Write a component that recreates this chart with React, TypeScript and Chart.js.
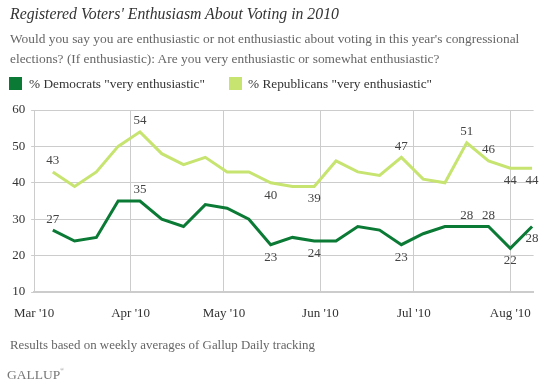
import React, { useEffect, useRef } from "react";
import { Chart, registerables } from "chart.js";

Chart.register(...registerables);

// ---- data ----
const weeks = [
  "2010-03-07", "2010-03-14", "2010-03-21", "2010-03-28", "2010-04-04", "2010-04-11",
  "2010-04-18", "2010-04-25", "2010-05-02", "2010-05-09", "2010-05-16", "2010-05-23",
  "2010-05-30", "2010-06-06", "2010-06-13", "2010-06-20", "2010-06-27", "2010-07-04",
  "2010-07-11", "2010-07-18", "2010-07-25", "2010-08-01", "2010-08-08",
];
const democrats = [27, 24, 25, 35, 35, 30, 28, 34, 33, 30, 23, 25, 24, 24, 28, 27, 23, 26, 28, 28, 28, 22, 28];
const republicans = [43, 39, 43, 50, 54, 48, 45, 47, 43, 43, 40, 39, 39, 46, 43, 42, 47, 41, 40, 51, 46, 44, 44];
const monthStarts = ["2010-03-01", "2010-04-01", "2010-05-01", "2010-06-01", "2010-07-01", "2010-08-01"];
const monthLabels = ["Mar '10", "Apr '10", "May '10", "Jun '10", "Jul '10", "Aug '10"];
const yTicks = [10, 20, 30, 40, 50, 60];
const demLabelled: Record<number, "above" | "below"> = { 0: "above", 4: "above", 10: "below", 12: "below", 16: "below", 19: "above", 20: "above", 21: "below", 22: "below" };
const repLabelled: Record<number, "above" | "below"> = { 0: "above", 4: "above", 10: "below", 12: "below", 16: "above", 19: "above", 20: "above", 21: "below", 22: "below" };

const DEM_COLOR = "#0a7a35";
const REP_COLOR = "#c6e46f";
const FONT = "'Liberation Serif', 'Times New Roman', serif";

const dayOf = (s: string) => {
  const [y, m, d] = s.split("-").map(Number);
  return (Date.UTC(y, m - 1, d) - Date.UTC(2010, 2, 1)) / 86400000;
};

const labelPlugin = {
  id: "pointLabels",
  afterDatasetsDraw(chart: any) {
    const ctx = chart.ctx;
    ctx.save();
    ctx.font = `13px ${FONT}`;
    ctx.fillStyle = "#444";
    ctx.textAlign = "center";
    ctx.textBaseline = "middle";
    const maps = [demLabelled, repLabelled];
    chart.data.datasets.forEach((ds: any, di: number) => {
      const meta = chart.getDatasetMeta(di);
      const map = maps[di];
      meta.data.forEach((pt: any, i: number) => {
        const pos = map[i];
        if (!pos) return;
        const v = ds.data[i].y;
        const y = pos === "above" ? pt.y - 11 : pt.y + 12.5;
        ctx.fillText(String(v), pt.x, y);
      });
    });
    ctx.restore();
  },
};

export default function App() {
  const ref = useRef<HTMLCanvasElement>(null);
  useEffect(() => {
    if (!ref.current) return;
    const chart = new Chart(ref.current, {
      type: "line",
      data: {
        datasets: [
          {
            label: '% Democrats "very enthusiastic"',
            data: weeks.map((w, i) => ({ x: dayOf(w), y: democrats[i] })),
            borderColor: DEM_COLOR,
            backgroundColor: DEM_COLOR,
            borderWidth: 3,
            pointRadius: 0,
            tension: 0,
          },
          {
            label: '% Republicans "very enthusiastic"',
            data: weeks.map((w, i) => ({ x: dayOf(w), y: republicans[i] })),
            borderColor: REP_COLOR,
            backgroundColor: REP_COLOR,
            borderWidth: 3,
            pointRadius: 0,
            tension: 0,
          },
        ],
      },
      options: {
        responsive: false,
        animation: false,
        devicePixelRatio: 1,
        layout: { padding: { top: 110, left: 0, right: 7, bottom: 65 } },
        plugins: { legend: { display: false }, tooltip: { enabled: false } },
        scales: {
          x: {
            type: "linear",
            min: 0,
            max: 160.5,
            afterFit: (s: any) => { s.height = 30; },
            afterBuildTicks: (s: any) => { s.ticks = monthStarts.map((m) => ({ value: dayOf(m) })); },
            grid: { color: "#cccccc", drawTicks: false, lineWidth: 1 },
            border: { color: "#cccccc", width: 2 },
            ticks: {
              autoSkip: false,
              maxRotation: 0,
              padding: 14,
              color: "#333",
              font: { family: FONT, size: 13 },
              callback: (_v: any, i: number) => monthLabels[i],
            },
          },
          y: {
            min: 10,
            max: 60,
            afterFit: (s: any) => { s.width = 32; },
            afterBuildTicks: (s: any) => { s.ticks = yTicks.map((v) => ({ value: v })); },
            grid: { color: "#cccccc", tickLength: 3, lineWidth: 1 },
            border: { color: "#cccccc", width: 1 },
            ticks: { padding: 6, color: "#333", font: { family: FONT, size: 13 } },
          },
        },
      },
      plugins: [labelPlugin],
    });
    return () => chart.destroy();
  }, []);

  const text: React.CSSProperties = { position: "absolute", whiteSpace: "nowrap", fontFamily: FONT };
  return (
    <div style={{ position: "fixed", left: 0, top: 0, width: 545, height: 387, background: "#fff", overflow: "hidden" }}>
      <canvas ref={ref} width={545} height={387} style={{ position: "absolute", left: 0, top: 0, width: 545, height: 387 }} />
      <div style={{ ...text, left: 10, top: 5, fontSize: 15.8, fontStyle: "italic", color: "#333" }}>
        Registered Voters' Enthusiasm About Voting in 2010
      </div>
      <div style={{ ...text, left: 10, top: 29, fontSize: 13.4, lineHeight: "19.5px", color: "#666" }}>
        Would you say you are enthusiastic or not enthusiastic about voting in this year's congressional
        <br />
        elections? (If enthusiastic): Are you very enthusiastic or somewhat enthusiastic?
      </div>
      <div style={{ position: "absolute", left: 9, top: 77, width: 13, height: 13, background: DEM_COLOR }} />
      <div style={{ ...text, left: 29, top: 76, fontSize: 13.3, color: "#333" }}>% Democrats "very enthusiastic"</div>
      <div style={{ position: "absolute", left: 229, top: 77, width: 13, height: 13, background: REP_COLOR }} />
      <div style={{ ...text, left: 248, top: 76, fontSize: 13.3, color: "#333" }}>% Republicans "very enthusiastic"</div>
      <div style={{ ...text, left: 10, top: 338, fontSize: 12.9, color: "#666" }}>
        Results based on weekly averages of Gallup Daily tracking
      </div>
      <div style={{ ...text, left: 7, top: 367, fontSize: 13.5, color: "#777" }}>
        GALLUP<span style={{ fontSize: 5, verticalAlign: "top" }}>®</span>
      </div>
    </div>
  );
}
